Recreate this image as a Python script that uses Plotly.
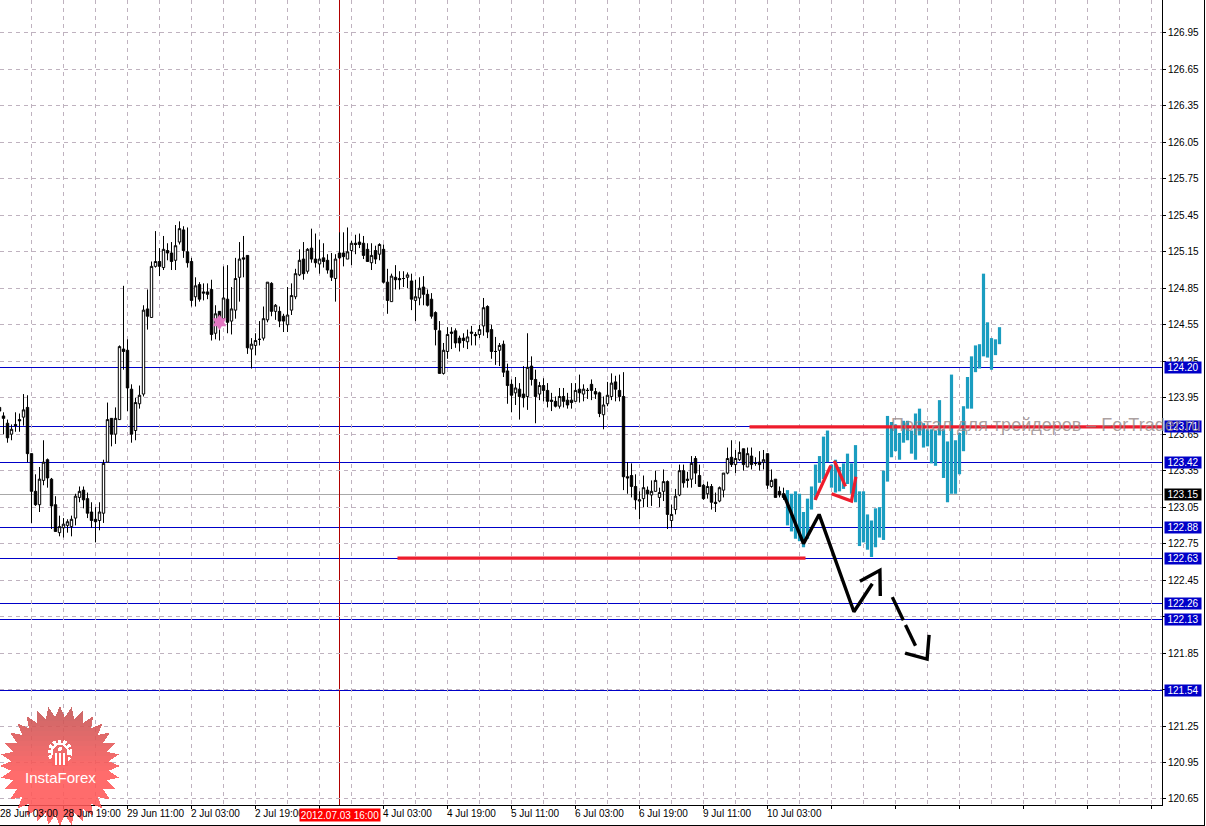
import math
import plotly.graph_objects as go

# ---- candlestick data (bar index = hourly bar, 2012) ----
opens = [123.87,123.80,123.74,123.65,123.73,123.77,123.79,123.87,123.49,123.18,
123.07,123.27,123.44,123.28,123.07,122.84,122.88,122.90,122.89,122.96,
123.13,123.19,123.12,123.01,122.95,122.94,123.00,123.42,123.78,123.65,
123.77,124.35,124.34,124.02,123.68,123.90,123.98,124.68,124.61,125.03,
125.07,125.02,125.16,125.14,125.08,125.23,125.33,125.15,125.07,124.78,
124.88,124.82,124.82,124.84,124.48,124.66,124.60,124.76,124.58,124.67,
124.94,125.10,125.12,124.35,124.38,124.43,124.44,124.59,124.89,124.66,
124.66,124.62,124.55,124.67,124.78,124.96,125.09,124.99,125.18,125.09,
125.05,125.10,125.08,125.00,124.93,125.14,125.14,125.09,125.16,125.22,
125.23,125.22,125.17,125.06,125.16,125.13,125.17,124.90,124.74,124.94,
124.93,124.93,124.94,124.91,124.75,124.77,124.86,124.80,124.76,124.65,
124.50,124.15,124.33,124.49,124.50,124.44,124.44,124.41,124.49,124.47,
124.47,124.54,124.70,124.51,124.33,124.34,124.39,124.17,124.06,123.99,
124.02,123.98,123.96,124.21,124.10,123.98,124.05,124.01,123.93,123.92,
123.88,123.96,123.93,123.93,123.92,124.02,123.98,124.01,124.06,124.00,
123.99,123.81,123.90,123.96,124.08,124.01,123.96,123.30,123.31,123.22,
123.10,123.12,123.19,123.15,123.18,123.13,123.18,123.26,122.94,123.03,
123.15,123.35,123.28,123.28,123.45,123.31,123.23,123.16,123.22,123.09,
123.10,123.19,123.33,123.46,123.40,123.44,123.53,123.38,123.47,123.41,
123.42,123.42,123.49,123.22,123.28,123.18,123.16]
closes = [123.84,123.78,123.62,123.69,123.72,123.76,123.85,123.49,123.18,123.07,
123.28,123.42,123.29,123.06,122.85,122.89,122.91,122.93,122.95,123.14,
123.18,123.11,123.00,122.94,122.93,123.01,123.41,123.77,123.65,123.78,
124.37,124.33,124.03,123.65,123.91,123.97,124.67,124.62,125.03,125.07,
125.03,125.17,125.14,125.07,125.20,125.34,125.16,125.06,124.75,124.87,
124.76,124.81,124.80,124.47,124.64,124.55,124.77,124.57,124.68,124.93,
125.09,125.09,124.36,124.39,124.42,124.43,124.60,124.90,124.66,124.71,
124.58,124.58,124.63,124.79,124.97,125.08,124.97,125.17,125.09,125.06,
125.09,125.07,125.00,124.94,125.09,125.10,125.11,125.15,125.22,125.21,
125.21,125.12,125.07,125.12,125.09,125.21,124.90,124.75,124.95,124.92,
124.92,124.93,124.96,124.76,124.78,124.85,124.80,124.71,124.62,124.51,
124.15,124.34,124.47,124.48,124.40,124.40,124.42,124.45,124.48,124.46,
124.51,124.69,124.49,124.33,124.33,124.38,124.16,124.05,123.97,124.03,
123.96,123.95,124.20,124.10,123.96,124.05,124.01,123.92,123.92,123.88,
123.96,123.92,123.89,123.91,124.01,123.99,124.02,124.01,124.01,123.98,
123.82,123.89,123.97,124.07,124.02,123.96,123.30,123.29,123.22,123.11,
123.11,123.21,123.16,123.18,123.27,123.17,123.26,122.99,122.99,123.14,
123.35,123.25,123.27,123.41,123.33,123.22,123.12,123.22,123.09,123.08,
123.21,123.33,123.45,123.40,123.45,123.50,123.40,123.49,123.40,123.41,
123.40,123.44,123.23,123.27,123.13,123.15,123.13]
highs = [123.99,123.83,123.77,123.73,123.83,123.82,123.98,123.97,123.49,123.32,
123.38,123.60,123.45,123.29,123.14,122.98,122.96,122.95,122.98,123.16,
123.22,123.22,123.17,123.09,123.05,123.09,123.44,123.91,123.78,123.87,
124.38,124.87,124.43,124.06,123.95,124.05,124.71,124.84,125.07,125.32,
125.18,125.28,125.22,125.23,125.37,125.40,125.36,125.35,125.10,124.94,
124.90,124.89,124.89,124.92,124.71,124.66,125.03,125.04,124.86,125.10,
125.23,125.28,125.12,124.44,124.48,124.58,124.70,124.90,124.90,124.72,
124.70,124.64,124.86,124.89,125.01,125.17,125.23,125.18,125.34,125.30,
125.25,125.22,125.13,125.14,125.13,125.31,125.31,125.35,125.24,125.29,
125.30,125.28,125.22,125.22,125.20,125.22,125.21,125.01,124.97,125.04,
124.99,124.99,124.98,124.97,124.92,124.94,124.95,124.84,124.81,124.66,
124.58,124.40,124.53,124.53,124.52,124.46,124.48,124.51,124.54,124.49,
124.55,124.77,124.71,124.55,124.45,124.40,124.42,124.23,124.10,124.12,
124.07,124.21,124.48,124.29,124.18,124.08,124.11,124.07,123.99,123.96,
124.03,124.03,123.99,124.07,124.07,124.14,124.06,124.03,124.10,124.03,
124.00,123.96,124.08,124.15,124.13,124.14,124.16,123.42,123.41,123.32,
123.18,123.31,123.22,123.27,123.35,123.21,123.36,123.27,123.07,123.20,
123.40,123.40,123.34,123.47,123.47,123.40,123.24,123.26,123.24,123.17,
123.22,123.33,123.54,123.60,123.52,123.59,123.53,123.54,123.54,123.46,
123.51,123.52,123.49,123.36,123.28,123.22,123.21]
lows = [123.83,123.65,123.58,123.60,123.67,123.67,123.72,123.42,122.92,123.06,
123.01,123.23,123.21,122.87,122.85,122.81,122.80,122.84,122.81,122.90,
123.09,123.04,122.96,122.88,122.76,122.86,122.92,123.42,123.55,123.57,
123.77,124.18,123.84,123.58,123.60,123.86,123.96,124.51,124.61,125.02,
124.95,125.00,125.08,125.00,125.00,125.21,125.10,125.02,124.70,124.70,
124.74,124.75,124.76,124.42,124.43,124.42,124.54,124.48,124.47,124.60,
124.74,124.94,124.31,124.19,124.30,124.38,124.42,124.57,124.62,124.59,
124.53,124.49,124.49,124.63,124.76,124.95,124.92,124.97,125.06,125.02,
124.97,125.02,124.97,124.91,124.74,125.09,125.03,125.09,125.04,125.13,
125.18,125.09,125.07,125.00,125.05,125.08,124.89,124.64,124.74,124.84,
124.84,124.86,124.85,124.67,124.58,124.71,124.71,124.70,124.60,124.38,
124.15,124.14,124.27,124.35,124.36,124.33,124.36,124.35,124.38,124.38,
124.44,124.46,124.44,124.27,124.22,124.21,124.12,123.90,123.83,123.89,
123.77,123.87,123.85,124.05,123.74,123.93,123.92,123.87,123.84,123.87,
123.86,123.87,123.86,123.86,123.92,123.91,123.92,123.94,123.93,123.94,
123.79,123.69,123.88,123.93,123.92,123.92,123.19,123.16,123.13,123.03,
122.95,123.05,123.05,123.06,123.18,123.05,123.10,122.87,122.88,122.99,
123.14,123.21,123.21,123.21,123.24,123.22,123.11,123.12,123.03,123.01,
123.09,123.13,123.32,123.38,123.33,123.43,123.35,123.38,123.36,123.39,
123.35,123.36,123.20,123.21,123.13,123.13,123.11]
bar_index = list(range(len(opens)))

# ---- teal forecast bars ----
teal_first_index = 197
teal_high = [123.19,123.16,123.18,123.16,123.01,123.12,123.22,123.40,123.47,123.63,
123.68,123.40,123.44,123.38,123.41,123.49,123.41,123.56,123.18,123.18,
122.99,122.94,123.04,123.05,123.35,123.80,123.75,123.73,123.66,123.76,
123.76,123.68,123.82,123.86,123.74,123.69,123.69,123.68,123.93,123.69,
123.59,124.14,123.60,123.66,123.88,124.12,124.29,124.38,124.39,124.97,
124.57,124.44,124.43,124.53]
teal_low = [122.90,122.85,122.79,122.77,122.72,122.79,123.03,123.11,123.25,123.28,
123.42,123.21,123.17,123.18,123.20,123.24,123.16,123.09,122.73,122.76,
122.70,122.64,122.72,122.80,122.78,123.26,123.46,123.51,123.44,123.58,
123.60,123.49,123.44,123.64,123.54,123.55,123.41,123.39,123.64,123.29,
123.09,123.16,123.16,123.32,123.51,123.86,123.86,124.16,124.19,124.29,
124.28,124.18,124.30,124.39]
teal_index = [teal_first_index + k for k in range(len(teal_high))]

# ---- horizontal levels ----
blue_levels = [124.20, 123.71, 123.42, 122.88, 122.63, 122.26, 122.13, 121.54]
last_price = 123.15
crosshair_index = 85
crosshair_label = "2012.07.03 16:00"

# ---- drawn analysis lines: (bar index, price) ----
red_levels = [([187.5, 291.0], [123.71, 123.71]), ([99.5, 201.5], [122.63, 122.63])]
black_paths = [
    ([196.0, 201.0, 204.9, 213.6, 218.2], [123.16, 122.75, 122.99, 122.19, 122.42]),
    ([215.1, 220.1, 220.2], [122.44, 122.53, 122.32]),
    ([223.2, 225.96], [122.31, 122.12]),
    ([226.5, 229.0], [122.08, 121.91]),
    ([226.4, 231.9, 232.4], [121.85, 121.80, 122.00]),
]
red_paths = [
    ([203.9, 207.8], [123.11, 123.39]),
    ([208.7, 211.5], [123.43, 123.22]),
    ([208.0, 213.0, 214.1], [123.16, 123.10, 123.30]),
]
star_index, star_price = [55], [124.57]

# ---- axes ----
y_ticks = [120.65, 120.95, 121.25, 121.55, 121.85, 122.15, 122.45, 122.75, 123.05, 123.35, 123.65,
           123.95, 124.25, 124.55, 124.85, 125.15, 125.45, 125.75, 126.05, 126.35, 126.65, 126.95]
y_hidden_labels = [121.55, 122.15]   # fully covered by the level boxes in the reference
x_tick_index = [0, 16, 32, 48, 64, 96, 112, 128, 144, 160, 176, 192]
x_tick_text = ["28 Jun 03:00", "28 Jun 19:00", "29 Jun 11:00", "2 Jul 03:00", "2 Jul 19:00",
               "4 Jul 03:00", "4 Jul 19:00", "5 Jul 11:00", "6 Jul 03:00", "6 Jul 19:00",
               "9 Jul 11:00", "10 Jul 03:00"]

W, H = 1206, 826
ML, MR, MT, MB = 0, 44, 0, 21
PW, PH = W - ML - MR, H - MT - MB
XMIN, XMAX = 0.125, 0.125 + PW / 4
YMIN, YMAX = 120.6005, 127.2205
FONT = "Liberation Sans"
GRID = "#bfb2bf"
BLUE = "#0000c8"

fig = go.Figure()
fig.add_trace(go.Candlestick(
    x=bar_index, open=opens, high=highs, low=lows, close=closes,
    increasing=dict(line=dict(color="black", width=1), fillcolor="white"),
    decreasing=dict(line=dict(color="black", width=1), fillcolor="black"),
    whiskerwidth=0, hoverinfo="skip", showlegend=False))
fig.add_trace(go.Bar(
    x=teal_index, base=teal_low, y=[h - l for h, l in zip(teal_high, teal_low)],
    width=0.8, marker=dict(color="#1a9dc0", line=dict(width=0)), hoverinfo="skip", showlegend=False))
fig.add_trace(go.Scatter(x=star_index, y=star_price, mode="markers", hoverinfo="skip", showlegend=False,
                         marker=dict(symbol="hexagram", size=12, color="#e377c2", line=dict(width=0))))

for xs, ys in red_levels + red_paths:
    fig.add_trace(go.Scatter(x=xs, y=ys, mode="lines", hoverinfo="skip", showlegend=False,
                             line=dict(color="#ee1c2c", width=3.2)))
for xs, ys in black_paths:
    fig.add_trace(go.Scatter(x=xs, y=ys, mode="lines", hoverinfo="skip", showlegend=False,
                             line=dict(color="black", width=3.4)))

shapes = []
for lv in blue_levels:
    shapes.append(dict(type="line", xref="paper", x0=0, x1=1, yref="y", y0=lv, y1=lv, layer="below",
                       line=dict(color=BLUE, width=1)))
shapes.append(dict(type="line", xref="paper", x0=0, x1=1, yref="y", y0=last_price, y1=last_price, layer="below",
                   line=dict(color="#a8a8a8", width=1)))
shapes.append(dict(type="line", xref="x", x0=crosshair_index, x1=crosshair_index, yref="paper", y0=0, y1=1,
                   line=dict(color="#b00000", width=1), layer="below"))
# outer frame of the terminal window (bottom and right)
fy = -(825.5 - PH) / PH
fx = 1204.5 / PW
shapes.append(dict(type="line", xref="paper", x0=0, x1=fx, yref="paper", y0=fy, y1=fy, line=dict(color="black", width=1)))
shapes.append(dict(type="line", xref="paper", x0=fx, x1=fx, yref="paper", y0=fy, y1=1, line=dict(color="black", width=1)))

# ---- InstaForex logo ----
def px_x(x): return x / PW
def px_y(y): return 1 - y / PH

CX, CY, RO, RI, TEETH = 60, 766, 60, 49, 32
star = []
for k in range(TEETH * 2):
    r = RO if k % 2 == 0 else RI
    a = -math.pi / 2 + k * math.pi / TEETH
    star.append((CX + r * math.cos(a), CY + r * math.sin(a)))

def clip_band(poly, y0, y1):
    def clip(p, inside, cross):
        out = []
        for a, b in zip(p, p[1:] + p[:1]):
            ia, ib = inside(a), inside(b)
            if ia: out.append(a)
            if ia != ib: out.append(cross(a, b))
        return out
    def cross_at(yy):
        return lambda a, b: (a[0] + (b[0] - a[0]) * (yy - a[1]) / (b[1] - a[1]), yy)
    p = clip(poly, lambda q: q[1] >= y0, cross_at(y0))
    if p:
        p = clip(p, lambda q: q[1] <= y1, cross_at(y1))
    return p

BANDS = 24
for b in range(BANDS):
    y0 = CY - RO + 2 * RO * b / BANDS
    y1 = CY - RO + 2 * RO * (b + 1) / BANDS
    poly = clip_band(star, y0, y1)
    if not poly:
        continue
    t = min(1.0, (b / (BANDS - 1)) / 0.55)
    col = "rgba(%d,%d,%d,0.88)" % (196 + 59 * t, 84 + 4 * t, 84 + 4 * t)
    path = "M " + " L ".join("%.5f,%.5f" % (px_x(q[0]), px_y(q[1])) for q in poly) + " Z"
    shapes.append(dict(type="path", xref="paper", yref="paper", path=path,
                       fillcolor=col, line=dict(width=0), layer="above"))
# gear icon
GX, GY = 60, 752
shapes.append(dict(type="circle", xref="paper", yref="paper", x0=px_x(GX - 10), x1=px_x(GX + 10),
                   y0=px_y(GY + 10), y1=px_y(GY - 10), fillcolor="rgba(0,0,0,0)",
                   line=dict(color="white", width=5, dash="3px,2px"), layer="above"))
shapes.append(dict(type="circle", xref="paper", yref="paper", x0=px_x(GX - 8), x1=px_x(GX + 8),
                   y0=px_y(GY + 8), y1=px_y(GY - 8), fillcolor="rgba(0,0,0,0)",
                   line=dict(color="white", width=2), layer="above"))
shapes.append(dict(type="rect", xref="paper", yref="paper", x0=px_x(GX - 8), x1=px_x(GX + 8),
                   y0=px_y(GY + 14), y1=px_y(GY + 3), fillcolor="#fb6262", line=dict(width=0), layer="above"))
shapes.append(dict(type="circle", xref="paper", yref="paper", x0=px_x(GX - 2), x1=px_x(GX + 2),
                   y0=px_y(GY - 1), y1=px_y(GY - 5), fillcolor="white", line=dict(width=0), layer="above"))
for dx in (-5, -1, 3):
    shapes.append(dict(type="rect", xref="paper", yref="paper", x0=px_x(GX + dx), x1=px_x(GX + dx + 2),
                       y0=px_y(GY + 13), y1=px_y(GY + 1), fillcolor="white", line=dict(width=0), layer="above"))

annotations = []
for i, txt in zip(x_tick_index, x_tick_text):
    annotations.append(dict(x=max(i, XMIN + 0.001), xref="x", y=0, yref="paper", text=txt, showarrow=False,
                            xanchor="left", yanchor="top", xshift=-1 if i else 0, yshift=-3,
                            font=dict(family=FONT, size=10, color="black"), borderpad=0, borderwidth=0))
annotations.append(dict(x=crosshair_index, xref="x", y=0, yref="paper", text=crosshair_label, showarrow=False,
                        xanchor="center", yanchor="top", yshift=-3, width=80, height=12,
                        bgcolor="#ff0000", font=dict(family=FONT, size=10, color="white"), borderpad=0))
for lv in blue_levels:
    annotations.append(dict(x=1, xref="paper", y=lv, yref="y", text="%.2f" % lv, showarrow=False,
                            xanchor="left", yanchor="middle", xshift=2, width=36, height=11,
                            bgcolor=BLUE, font=dict(family=FONT, size=10, color="white"), borderpad=0))
annotations.append(dict(x=1, xref="paper", y=last_price, yref="y", text="%.2f" % last_price, showarrow=False,
                        xanchor="left", yanchor="middle", xshift=2, width=36, height=11,
                        bgcolor="black", font=dict(family=FONT, size=10, color="white"), borderpad=0))
annotations.append(dict(x=px_x(890), xref="paper", y=123.71, yref="y", text="Портал для трейдеров – ForTrader.ru",
                        showarrow=False, xanchor="left", yanchor="middle", borderpad=0, yshift=2,
                        font=dict(family=FONT, size=18, color="rgba(150,135,135,0.8)")))
annotations.append(dict(x=px_x(CX), xref="paper", y=px_y(777), yref="paper", text="InstaForex", showarrow=False,
                        xanchor="center", yanchor="middle", font=dict(family=FONT, size=15, color="white"), borderpad=0))

fig.update_layout(
    width=W, height=H, autosize=False,
    margin=dict(l=ML, r=MR, t=MT, b=MB, pad=0),
    paper_bgcolor="white", plot_bgcolor="white",
    font=dict(family=FONT, size=10, color="black"),
    showlegend=False, dragmode=False, hovermode=False,
    boxgap=0.15, bargap=0.2,
    shapes=shapes, annotations=annotations,
    xaxis=dict(range=[XMIN, XMAX], rangeslider=dict(visible=False), tick0=0, dtick=16,
               showticklabels=False, ticks="outside", ticklen=3, tickcolor="black", tickwidth=1,
               showline=True, linecolor="black", linewidth=1, zeroline=False,
               showgrid=True, gridcolor=GRID, griddash="4px,4px", gridwidth=1,
               minor=dict(tick0=8, dtick=16, showgrid=True, gridcolor=GRID, griddash="4px,4px", gridwidth=1, ticks="")),
    yaxis=dict(range=[YMIN, YMAX], side="right", tickvals=y_ticks,
               ticktext=["" if v in y_hidden_labels else "%.2f" % v for v in y_ticks],
               ticks="outside", ticklen=3, tickcolor="black", tickwidth=1,
               showline=True, linecolor="black", linewidth=1, zeroline=False,
               showgrid=True, gridcolor=GRID, griddash="4px,4px", gridwidth=1,
               tickfont=dict(family=FONT, size=10, color="black")),
)

fig.write_html("out.html", config=dict(displayModeBar=False, staticPlot=True),
               post_script="document.body.style.margin='0';document.documentElement.style.overflow='hidden';"
                           "document.querySelectorAll('.shapelayer path').forEach(function(p){p.style.shapeRendering='crispEdges';});")
